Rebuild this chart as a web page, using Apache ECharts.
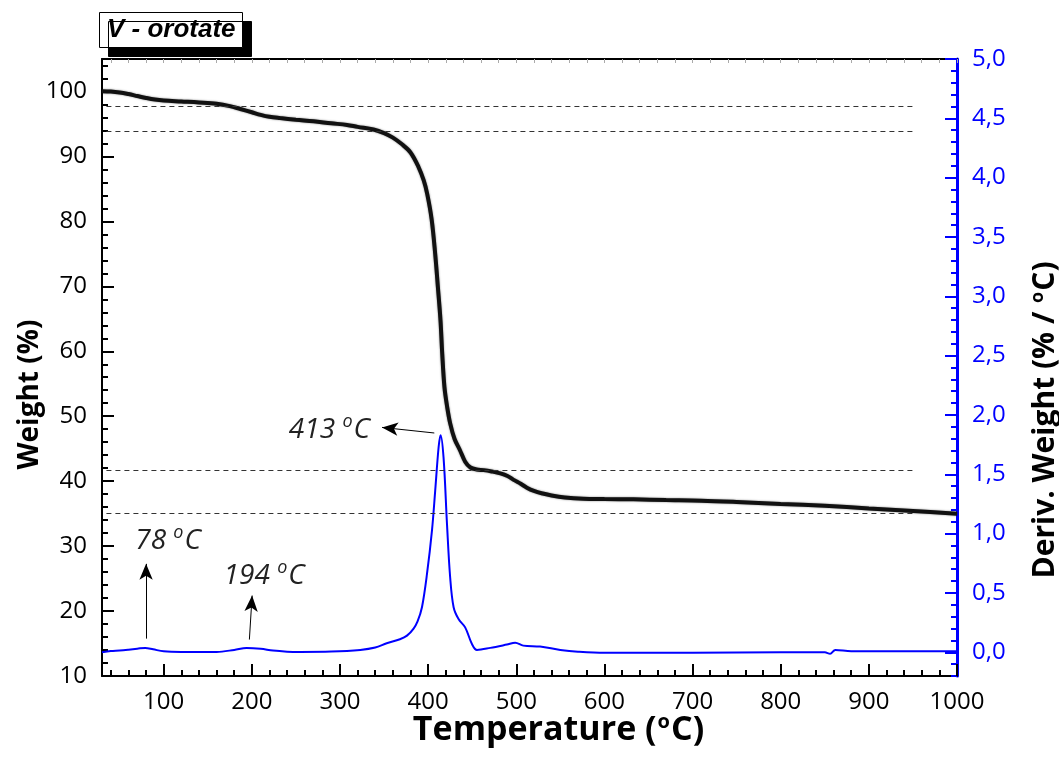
<!DOCTYPE html>
<html>
<head>
<meta charset="utf-8">
<script src="https://cdn.jsdelivr.net/npm/echarts@6/dist/echarts.min.js"></script>
<style>
html,body{margin:0;padding:0;background:#fff;overflow:hidden;}
#chart{width:1059px;height:765px;}
</style>
</head>
<body>
<div id="chart"></div>
<script>
// Temperature (°C) vs Weight (%)
const weightData = [
  [30,100.05],[40,100.0],[50,99.85],[60,99.6],[70,99.3],[80,99.0],[90,98.75],[100,98.6],
  [120,98.45],[140,98.3],[160,98.1],[175,97.75],[187,97.3],[200,96.8],[210,96.4],[220,96.1],
  [232,95.9],[250,95.65],[270,95.4],[290,95.1],[308,94.85],[320,94.55],[338,94.15],[350,93.6],
  [360,92.9],[370,91.9],[380,90.6],[389,88.4],[395,86.3],[399,84.2],[404,80.3],[408,75.0],
  [411,70.0],[414,64.8],[416,59.6],[418.5,54.5],[421.5,51.5],[425,48.9],[430,46.5],[436,44.8],
  [442,43.0],[448,42.1],[455,41.8],[463,41.7],[472,41.5],[482,41.2],[490,40.8],[497,40.2],
  [505,39.6],[512,39.0],[520,38.5],[530,38.1],[540,37.8],[555,37.5],[576,37.3],[600,37.25],
  [633,37.2],[670,37.1],[710,37.0],[750,36.8],[800,36.5],[850,36.2],[900,35.8],[950,35.4],[1000,35.0]
];
// Temperature (°C) vs Deriv. Weight (%/°C)
const derivData = [
  [30,0.0],[40,0.01],[50,0.015],[60,0.022],[70,0.03],[79,0.037],[88,0.025],[100,0.008],
  [120,0.003],[160,0.003],[180,0.02],[194,0.037],[210,0.03],[224,0.014],[240,0.005],[255,0.003],
  [290,0.006],[323,0.02],[340,0.04],[353,0.076],[368,0.11],[376,0.14],[383.5,0.2],[388,0.26],
  [393,0.38],[398.7,0.66],[404.4,1.03],[408,1.36],[411.9,1.73],[414.1,1.83],[417.5,1.64],
  [421.4,1.08],[425,0.63],[428.9,0.38],[434.5,0.28],[442,0.21],[449.7,0.07],[455.4,0.02],
  [470.5,0.037],[489.4,0.065],[498.8,0.08],[508,0.056],[527,0.048],[550,0.02],[570,0.005],
  [600,-0.005],[700,-0.005],[800,0.0],[850,0.0],[856,-0.013],[862,0.02],[880,0.008],[950,0.008],[1000,0.008]
];
// Dashed reference levels (Weight %)
const refLevels = [97.8, 93.9, 41.7, 35.1];
const refRange = [35, 950];
// Peak annotations
const peakLabels = ['78', '194', '413'];
const peakTextPos = [[105, 0.94], [214, 0.645], [288, 1.876]];
const peakArrows = [
  [[80, 0.115], [80, 0.745]],
  [[197.2, 0.107], [200.3, 0.478]],
  [[407, 1.848], [347.7, 1.895]]
];
// Tick labels
const xTickLabels = [100,200,300,400,500,600,700,800,900,1000];
const yLeftTickLabels = [10,20,30,40,50,60,70,80,90,100];
const yRightTickLabels = [0.0,0.5,1.0,1.5,2.0,2.5,3.0,3.5,4.0,4.5,5.0];

// minor tick positions
const xMinor = []; for (let v = 40; v <= 1000; v += 20) xMinor.push(v);
const yLeftMinor = []; for (let v = 10; v <= 104; v += 2) yLeftMinor.push(v);
const yRightMinor = []; for (let i = -2; i <= 50; i++) yRightMinor.push(Math.round(i) / 10);

const FONT = 'Open Sans';
const chart = echarts.init(document.getElementById('chart'), null, {width: 1059, height: 765});

function xAxisBase(extra) {
  return Object.assign({type: 'value', min: 30, max: 1000, gridIndex: 0, splitLine: {show: false}}, extra);
}
function yAxisBase(extra) {
  return Object.assign({type: 'value', gridIndex: 0, splitLine: {show: false}}, extra);
}

const option = {
  backgroundColor: '#fff',
  animation: false,
  title: {
    text: 'V - orotate',
    left: 99, top: 12,
    padding: [5, 7, 5, 8],
    backgroundColor: '#fff',
    borderColor: '#000',
    borderWidth: 1,
    shadowColor: '#000',
    shadowBlur: 0,
    shadowOffsetX: 9,
    shadowOffsetY: 9,
    textStyle: {fontFamily: 'Liberation Sans', fontSize: 26, fontWeight: 'bold', fontStyle: 'italic', color: '#000'}
  },
  grid: {left: 102, right: 102, top: 59, bottom: 89, containLabel: false, outerBoundsMode: 'none'},
  xAxis: [
    xAxisBase({
      position: 'bottom',
      axisLine: {show: true, onZero: false, lineStyle: {color: '#000', width: 2}},
      axisTick: {show: true, inside: true, length: 12, customValues: xTickLabels, lineStyle: {color: '#000', width: 2}},
      axisLabel: {
        show: true, margin: 14, color: '#000', fontFamily: FONT, fontSize: 24,
        customValues: xTickLabels, formatter: v => String(v)
      },
      name: 'Temperature ({s|o}C)',
      nameLocation: 'middle', nameGap: 36, nameMoveOverlap: false,
      nameTextStyle: {
        fontFamily: FONT, fontSize: 34, fontWeight: 'bold', color: '#000', padding: [0, 0, 0, 58],
        rich: {s: {fontFamily: FONT, fontSize: 20, fontWeight: 'bold', color: '#000', padding: [0, 1, 17, 1]}}
      }
    }),
    xAxisBase({
      position: 'bottom',
      axisLine: {show: false, onZero: false},
      axisTick: {show: true, inside: true, length: 6, customValues: xMinor, lineStyle: {color: '#000', width: 2}},
      axisLabel: {show: false}
    }),
    xAxisBase({
      position: 'top',
      axisLine: {show: true, onZero: false, lineStyle: {color: '#000', width: 2}},
      axisTick: {show: true, inside: true, length: 4, customValues: xMinor, lineStyle: {color: '#aaa', width: 1}},
      axisLabel: {show: false}
    })
  ],
  yAxis: [
    yAxisBase({
      position: 'left', min: 10, max: 105,
      axisLine: {show: true, onZero: false, lineStyle: {color: '#000', width: 2}},
      axisTick: {show: true, inside: true, length: 12, customValues: yLeftTickLabels, lineStyle: {color: '#000', width: 2}},
      axisLabel: {
        show: true, margin: 15, color: '#000', fontFamily: FONT, fontSize: 24,
        customValues: yLeftTickLabels, formatter: v => String(v)
      },
      name: 'Weight (%)',
      nameLocation: 'middle', nameGap: 58, nameMoveOverlap: false,
      nameTextStyle: {fontFamily: FONT, fontSize: 28, fontWeight: 'bold', color: '#000', padding: [0, 54, 0, 0]}
    }),
    yAxisBase({
      position: 'left', min: 10, max: 105,
      axisLine: {show: false, onZero: false},
      axisTick: {show: true, inside: true, length: 6, customValues: yLeftMinor, lineStyle: {color: '#000', width: 2}},
      axisLabel: {show: false}
    }),
    yAxisBase({
      position: 'right', min: -0.2, max: 5.0,
      axisLine: {show: true, onZero: false, lineStyle: {color: '#0000ff', width: 3}},
      axisTick: {show: true, inside: true, length: 12, customValues: yRightTickLabels, lineStyle: {color: '#0000ff', width: 2}},
      axisLabel: {
        show: true, margin: 15, color: '#0000ff', fontFamily: FONT, fontSize: 24,
        customValues: yRightTickLabels,
        formatter: v => Number(v).toFixed(1).replace('.', ',')
      },
      name: 'Deriv. Weight (% / {s|o}C)',
      nameLocation: 'middle', nameGap: 72, nameRotate: 90, nameMoveOverlap: false,
      nameTextStyle: {
        fontFamily: FONT, fontSize: 30, fontWeight: 'bold', color: '#000', padding: [0, 105, 0, 0],
        rich: {s: {fontFamily: FONT, fontSize: 18, fontWeight: 'bold', color: '#000', padding: [0, 1, 15, 1]}}
      }
    }),
    yAxisBase({
      position: 'right', min: -0.2, max: 5.0,
      axisLine: {show: false, onZero: false},
      axisTick: {show: true, inside: true, length: 6, customValues: yRightMinor, lineStyle: {color: '#0000ff', width: 2}},
      axisLabel: {show: false}
    })
  ],
  series: [
    {
      name: 'Weight', type: 'line', xAxisIndex: 0, yAxisIndex: 0,
      data: weightData, showSymbol: false, smooth: 0.35, z: 3,
      lineStyle: {color: '#111', width: 4, shadowColor: 'rgba(0,0,0,0.5)', shadowBlur: 2},
      markLine: {
        silent: true, symbol: ['none', 'none'], animation: false,
        label: {show: false},
        lineStyle: {color: '#333', type: [5, 4], width: 1},
        data: refLevels.map(lv => [{coord: [refRange[0], lv]}, {coord: [refRange[1], lv]}])
      }
    },
    {
      name: 'Deriv', type: 'line', xAxisIndex: 0, yAxisIndex: 2,
      data: derivData, showSymbol: false, smooth: 0.35, z: 4,
      lineStyle: {color: '#0000ff', width: 2},
      markLine: {
        silent: true, symbol: ['none', 'arrow'], symbolSize: [10, 16], animation: false,
        label: {show: false},
        lineStyle: {color: '#000', type: 'solid', width: 1},
        data: peakArrows.map(a => [{coord: a[0]}, {coord: a[1]}])
      },
      markPoint: {
        silent: true, animation: false,
        symbol: 'rect', symbolSize: 1,
        itemStyle: {color: 'rgba(0,0,0,0)'},
        label: {
          show: true, position: 'inside',
          formatter: p => '{a|' + p.name + ' }{s|o}{a|C}',
          rich: {
            a: {fontFamily: FONT, fontSize: 28, fontStyle: 'italic', color: '#222'},
            s: {fontFamily: FONT, fontSize: 18, fontStyle: 'italic', color: '#222', padding: [0, 1, 16, 0]}
          }
        },
        data: peakLabels.map((t, i) => ({name: t, coord: peakTextPos[i]}))
      }
    }
  ]
};
chart.setOption(option);
</script>
</body>
</html>
